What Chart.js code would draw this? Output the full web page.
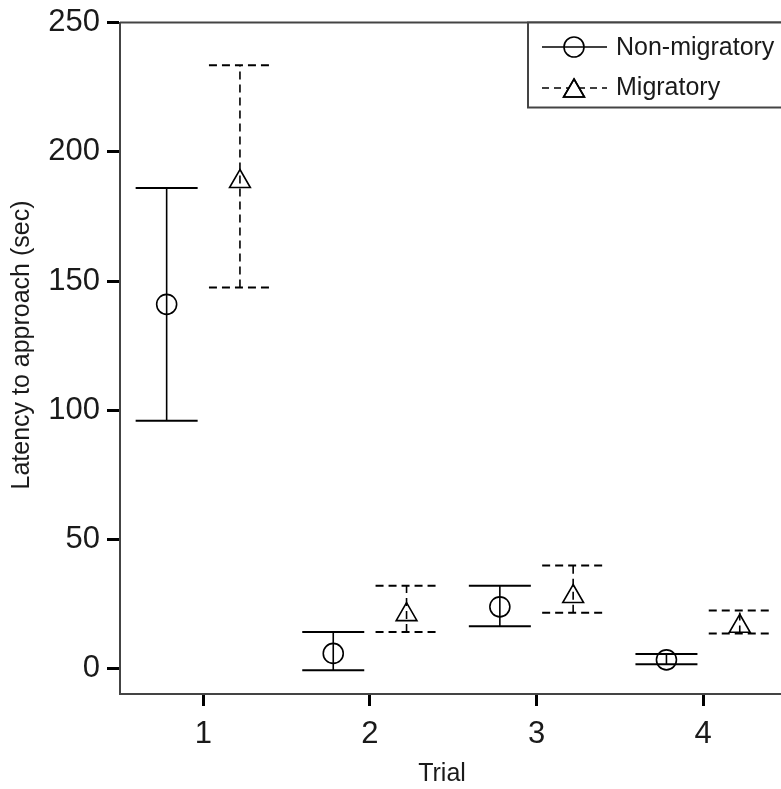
<!DOCTYPE html>
<html>
<head>
<meta charset="utf-8">
<script src="https://cdn.jsdelivr.net/npm/chart.js@4.4.0/dist/chart.umd.min.js"></script>
<style>
  html, body { margin: 0; padding: 0; background: #fff; overflow: hidden; }
  #wrap { width: 781px; height: 789px; overflow: hidden; }
</style>
</head>
<body>
<div id="wrap"><canvas id="latency" width="800" height="789"></canvas></div>
<script>
/* --------------- Data --------------------- */
const trials = [1, 2, 3, 4];
const yTicks = [0, 50, 100, 150, 200, 250];

// Non-migratory: mean and error bar ends (sec)
const nonMean = [141, 6, 24, 3.5];
const nonLow = [96, -0.5, 16.5, 1.8];
const nonHigh = [186, 14.3, 32.2, 5.8];

// Migratory: mean and error bar ends (sec)
const migMean = [188.5, 21, 28, 16.5];
const migLow = [147.5, 14.3, 21.7, 13.7];
const migHigh = [233.5, 32.2, 40, 22.6];

const seriesNames = ["Non-migratory", "Migratory"];

/* --------------- Style --------------------- */
const FONT = "'Liberation Sans', Arial, sans-serif";
const TEXT = "#1a1a1a";
const shift = 0.22; // side-by-side offset of the two groups
const capHalf = 31; // px
const dash = [8, 5];

const nonPoints = trials.map((t, i) => ({ x: t - shift, y: nonMean[i] }));
const migPoints = trials.map((t, i) => ({ x: t + shift, y: migMean[i] }));

/* --------------- Error bars, frame, legend, titles --------------------- */
const extras = {
  id: "extras",
  beforeDatasetsDraw(chart) {
    const { ctx, scales: { x, y } } = chart;
    const groups = [
      { off: -shift, lo: nonLow, hi: nonHigh, dashed: false },
      { off: shift, lo: migLow, hi: migHigh, dashed: true },
    ];
    ctx.save();
    ctx.strokeStyle = "#000";
    groups.forEach((g) => {
      ctx.setLineDash(g.dashed ? dash : []);
      trials.forEach((t, i) => {
        const px = x.getPixelForValue(t + g.off);
        const yLo = y.getPixelForValue(g.lo[i]);
        const yHi = y.getPixelForValue(g.hi[i]);
        ctx.lineWidth = 1.6;
        ctx.beginPath();
        ctx.moveTo(px, yLo);
        ctx.lineTo(px, yHi);
        ctx.stroke();
        ctx.lineWidth = 2;
        [yLo, yHi].forEach((py) => {
          ctx.beginPath();
          ctx.moveTo(px - capHalf, py);
          ctx.lineTo(px + capHalf, py);
          ctx.stroke();
        });
      });
    });
    ctx.restore();
  },
  afterDraw(chart) {
    const { ctx, chartArea: area } = chart;
    ctx.save();

    // top frame line
    ctx.strokeStyle = "#444";
    ctx.lineWidth = 2;
    ctx.beginPath();
    ctx.moveTo(area.left, area.top);
    ctx.lineTo(area.right, area.top);
    ctx.stroke();

    // legend box
    const lx = 528, ly = area.top;
    ctx.fillStyle = "#fff";
    ctx.fillRect(lx, ly, 300, 85);
    ctx.strokeRect(lx, ly, 300, 85);

    ctx.strokeStyle = "#000";
    ctx.lineWidth = 1.6;
    // row 1: solid + circle
    ctx.beginPath();
    ctx.moveTo(542, 47);
    ctx.lineTo(607, 47);
    ctx.stroke();
    ctx.beginPath();
    ctx.arc(574, 47, 10, 0, Math.PI * 2);
    ctx.stroke();
    // row 2: dashed + triangle
    ctx.setLineDash([7, 5]);
    ctx.beginPath();
    ctx.moveTo(542, 88);
    ctx.lineTo(607, 88);
    ctx.stroke();
    ctx.setLineDash([]);
    Chart.helpers.drawPoint(ctx, { pointStyle: "triangle", radius: 12, borderWidth: 1.6 }, 574, 91);
    ctx.stroke();

    ctx.fillStyle = TEXT;
    ctx.font = "25px " + FONT;
    ctx.textBaseline = "middle";
    ctx.textAlign = "left";
    ctx.fillText(seriesNames[0], 616, 48);
    ctx.fillText(seriesNames[1], 616, 88);

    // axis titles
    ctx.textAlign = "center";
    ctx.fillText("Trial", 442, 774);
    ctx.translate(22, 345);
    ctx.rotate(-Math.PI / 2);
    ctx.fillText("Latency to approach (sec)", 0, 0);
    ctx.restore();
  },
};

/* --------------- Chart --------------------- */
const latencyChart = new Chart(document.getElementById("latency"), {
  type: "scatter",
  plugins: [extras],
  data: {
    datasets: [
      {
        label: seriesNames[0],
        data: nonPoints,
        pointStyle: "circle",
        pointRadius: 10,
        borderColor: "#000",
        backgroundColor: "rgba(0,0,0,0)",
        borderWidth: 1.6,
      },
      {
        label: seriesNames[1],
        data: migPoints,
        pointStyle: "triangle",
        pointRadius: 12,
        borderColor: "#000",
        backgroundColor: "rgba(0,0,0,0)",
        borderWidth: 1.6,
      },
    ],
  },
  options: {
    responsive: false,
    animation: false,
    layout: { padding: { top: 22, right: 12, left: 0, bottom: 0 } },
    plugins: { legend: { display: false }, tooltip: { enabled: false } },
    scales: {
      x: {
        type: "linear",
        min: 0.5,
        max: 4.5,
        afterBuildTicks: (s) => { s.ticks = trials.map((v) => ({ value: v })); },
        afterFit: (s) => { s.height = 95; },
        ticks: { font: { family: FONT, size: 31 }, color: TEXT, padding: 10 },
        grid: { display: true, drawOnChartArea: false, drawTicks: true, tickLength: 12, tickWidth: 3, tickColor: "#000" },
        border: { display: true, color: "#444", width: 2 },
      },
      y: {
        type: "linear",
        min: -9.7,
        max: 250,
        afterBuildTicks: (s) => { s.ticks = yTicks.map((v) => ({ value: v })); },
        afterFit: (s) => { s.width = 120; },
        ticks: { font: { family: FONT, size: 31, lineHeight: 1 }, color: TEXT, padding: 7 },
        grid: { display: true, drawOnChartArea: false, drawTicks: true, tickLength: 13, tickWidth: 3, tickColor: "#000" },
        border: { display: true, color: "#444", width: 2 },
      },
    },
  },
});
</script>
</body>
</html>
